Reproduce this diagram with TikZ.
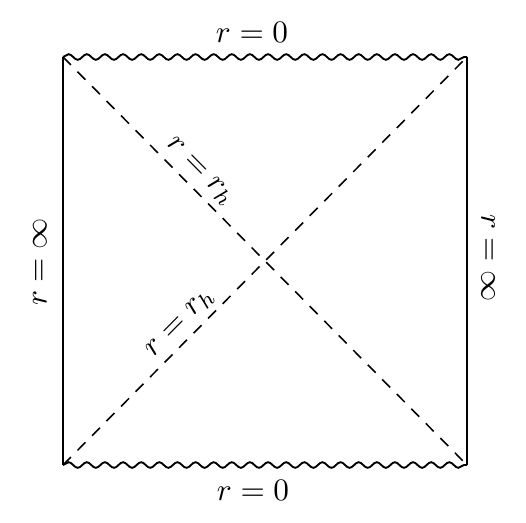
\documentclass[tikz,border=0pt]{standalone}
\usepackage{tikz}
\usetikzlibrary{decorations.pathmorphing,positioning}
\tikzstyle{singularity}=[
  decorate,
  decoration={snake, segment length=5.8pt, amplitude=0.9pt},
  line width=0.6pt,
]
\tikzstyle{boundary}=[
  line width=0.6pt,
]
\tikzstyle{horizon}=[
  dash pattern=on 3.6pt off 3pt,
  line width=0.5pt,
]
\tikzstyle{rlabel}=[
  inner sep=2pt,
]
\begin{document}
\begin{tikzpicture}[x=0.32pt,y=-0.32pt]
  \useasboundingbox (0,0) rectangle (526,522);
  \coordinate (TL) at (63,57);
  \coordinate (TR) at (467,57);
  \coordinate (BL) at (63,465);
  \coordinate (BR) at (467,465);
  %%
  \draw [singularity] (TL) -- (TR);
  \draw [singularity] (BL) -- (BR);
  \draw [boundary] (TL) -- (BL);
  \draw [boundary] (TR) -- (BR);
  %%
  \draw [horizon] (TL) -- node [rlabel, pos=0.31, above, sloped] {$r = r_h$} (BR);
  \draw [horizon] (BL) -- node [rlabel, pos=0.32, above, sloped] {$r = r_h$} (TR);
  %%
  \node (top) [rlabel] at (252,32) {$r = 0$};
  \node (bottom) [rlabel] at (253,490) {$r = 0$};
  \node (left) [rlabel, rotate=90] at (40,262) {$r = \infty$};
  \node (right) [rlabel, rotate=-90] at (488,258) {$r = \infty$};
\end{tikzpicture}
\end{document}
